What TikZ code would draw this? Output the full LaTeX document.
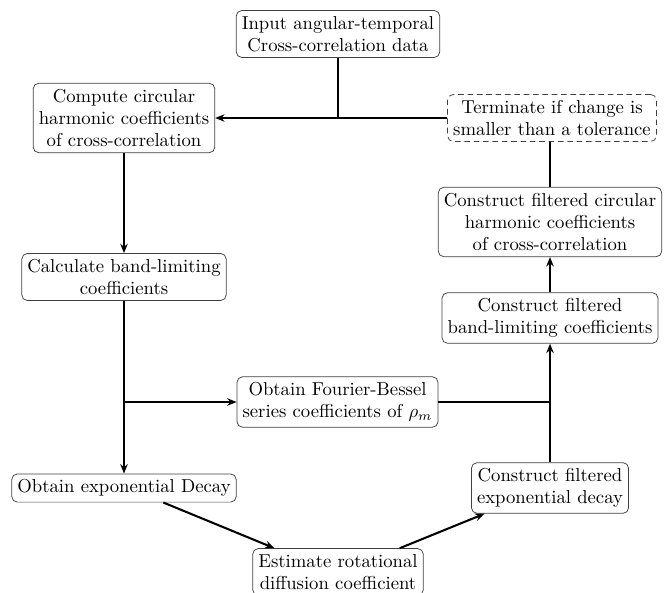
\documentclass[tikz,border=0pt]{standalone}
\usetikzlibrary{arrows.meta}
\begin{document}
\begin{tikzpicture}[x=0.5348pt,y=-0.5348pt,
  box/.style={draw, rounded corners=3pt, align=center, inner sep=3pt, line width=0.4pt, draw=black!75},
  dbox/.style={box, dash pattern=on 3pt off 2pt},
  flow/.style={line width=1.5pt, -{Stealth[length=5pt,width=4pt]}},
  plainline/.style={line width=1.5pt},
  diag/.style={line width=1.1pt, -{Stealth[length=5pt,width=4pt]}}]
\useasboundingbox (0,0) rectangle (671,592);

\node[box] (input) at (338,34) {Input angular-temporal\\Cross-correlation data};
\node[box] (compute) at (124,118) {Compute circular\\harmonic coefficients\\of cross-correlation};
\node[dbox] (term) at (552,118) {Terminate if change is\\smaller than a tolerance};
\node[box] (circ) at (550,222) {Construct filtered circular\\harmonic coefficients\\of cross-correlation};
\node[box] (calc) at (124,277) {Calculate band-limiting\\coefficients};
\node[box] (band) at (550,318) {Construct filtered\\band-limiting coefficients};
\node[box] (fb) at (337.5,402) {Obtain Fourier-Bessel\\series coefficients of $\rho_m$};
\node[box] (exp) at (124,488) {Obtain exponential Decay};
\node[box] (cexp) at (550,488) {Construct filtered\\exponential decay};
\node[box] (est) at (338,572) {Estimate rotational\\diffusion coefficient};

\coordinate (j1) at (input.south |- compute.east);
\coordinate (j2) at (calc.south |- fb.west);
\coordinate (j3) at (cexp.north |- fb.east);
\coordinate (j4) at (circ.north |- term.south);

\draw[plainline] (input.south) -- (j1);
\draw[flow] (term.west) -- (compute.east);
\draw[flow] (compute.south) -- (calc.north);
\draw[flow] (calc.south) -- (exp.north);
\draw[flow] (j2) -- (fb.west);
\draw[plainline] (fb.east) -- (j3);
\draw[flow] (cexp.north) -- (band.south);
\draw[flow] (band.north) -- (circ.south);
\draw[plainline] (circ.north) -- (j4);
\draw[diag] ([xshift=21pt]exp.south) -- ([xshift=-34pt]est.north);
\draw[diag] ([xshift=33pt]est.north) -- ([xshift=-35pt]cexp.south);
\end{tikzpicture}
\end{document}
